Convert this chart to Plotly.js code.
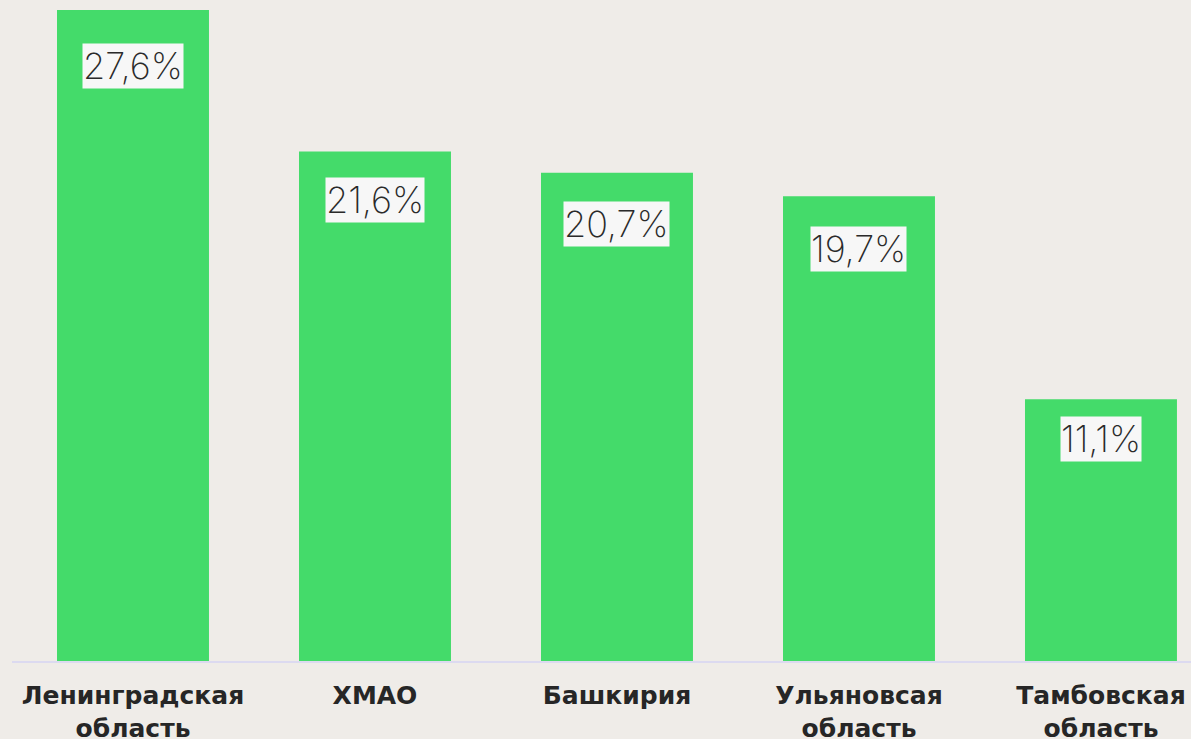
<!DOCTYPE html>
<html>
<head>
<meta charset="utf-8">
<script src="https://cdn.plot.ly/plotly-3.0.1.min.js"></script>
<style>
html,body{margin:0;padding:0;background:#EFECE8;overflow:hidden;}
#chart{width:1191px;height:739px;}
</style>
</head>
<body>
<div id="chart"></div>
<script>
const categories = ["Ленинградская<br>область", "ХМАО", "Башкирия", "Ульяновсая<br>область", "Тамбовская<br>область"];
const values = [27.6, 21.6, 20.7, 19.7, 11.1];
const valueLabels = ["27,6%", "21,6%", "20,7%", "19,7%", "11,1%"];
// style: distance (px) from bar top to label box top
const labelOffsets = [33, 26, 28, 30, 17];

const trace = {
  type: "bar",
  x: categories,
  y: values,
  marker: {color: "#44DB6A"},
  hoverinfo: "none"
};

const annotations = categories.map((c, i) => ({
  x: c,
  y: values[i],
  xref: "x",
  yref: "y",
  yanchor: "top",
  yshift: -labelOffsets[i],
  text: valueLabels[i],
  showarrow: false,
  bgcolor: "#F7F7F7",
  borderpad: 0,
  font: {family: "Inter, 'Open Sans', sans-serif", size: 36, weight: 200, color: "#2A2A2A"}
}));

const layout = {
  width: 1191,
  height: 739,
  paper_bgcolor: "#EFECE8",
  plot_bgcolor: "#EFECE8",
  margin: {l: 12, r: 0, t: 0, b: 78},
  bargap: 0.372,
  showlegend: false,
  xaxis: {
    type: "category",
    range: [-0.5, 4.372],
    showgrid: false,
    showline: true,
    linecolor: "#DCDAF0",
    linewidth: 2,
    ticks: "",
    ticklabelstandoff: 11,
    tickfont: {family: "'DejaVu Sans', sans-serif", size: 25, weight: 700, color: "#262626"},
    fixedrange: true
  },
  yaxis: {
    range: [0, 28.02],
    visible: false,
    showgrid: false,
    zeroline: false,
    fixedrange: true
  },
  annotations: annotations
};

Plotly.newPlot("chart", [trace], layout, {displayModeBar: false, staticPlot: true});
</script>
</body>
</html>
